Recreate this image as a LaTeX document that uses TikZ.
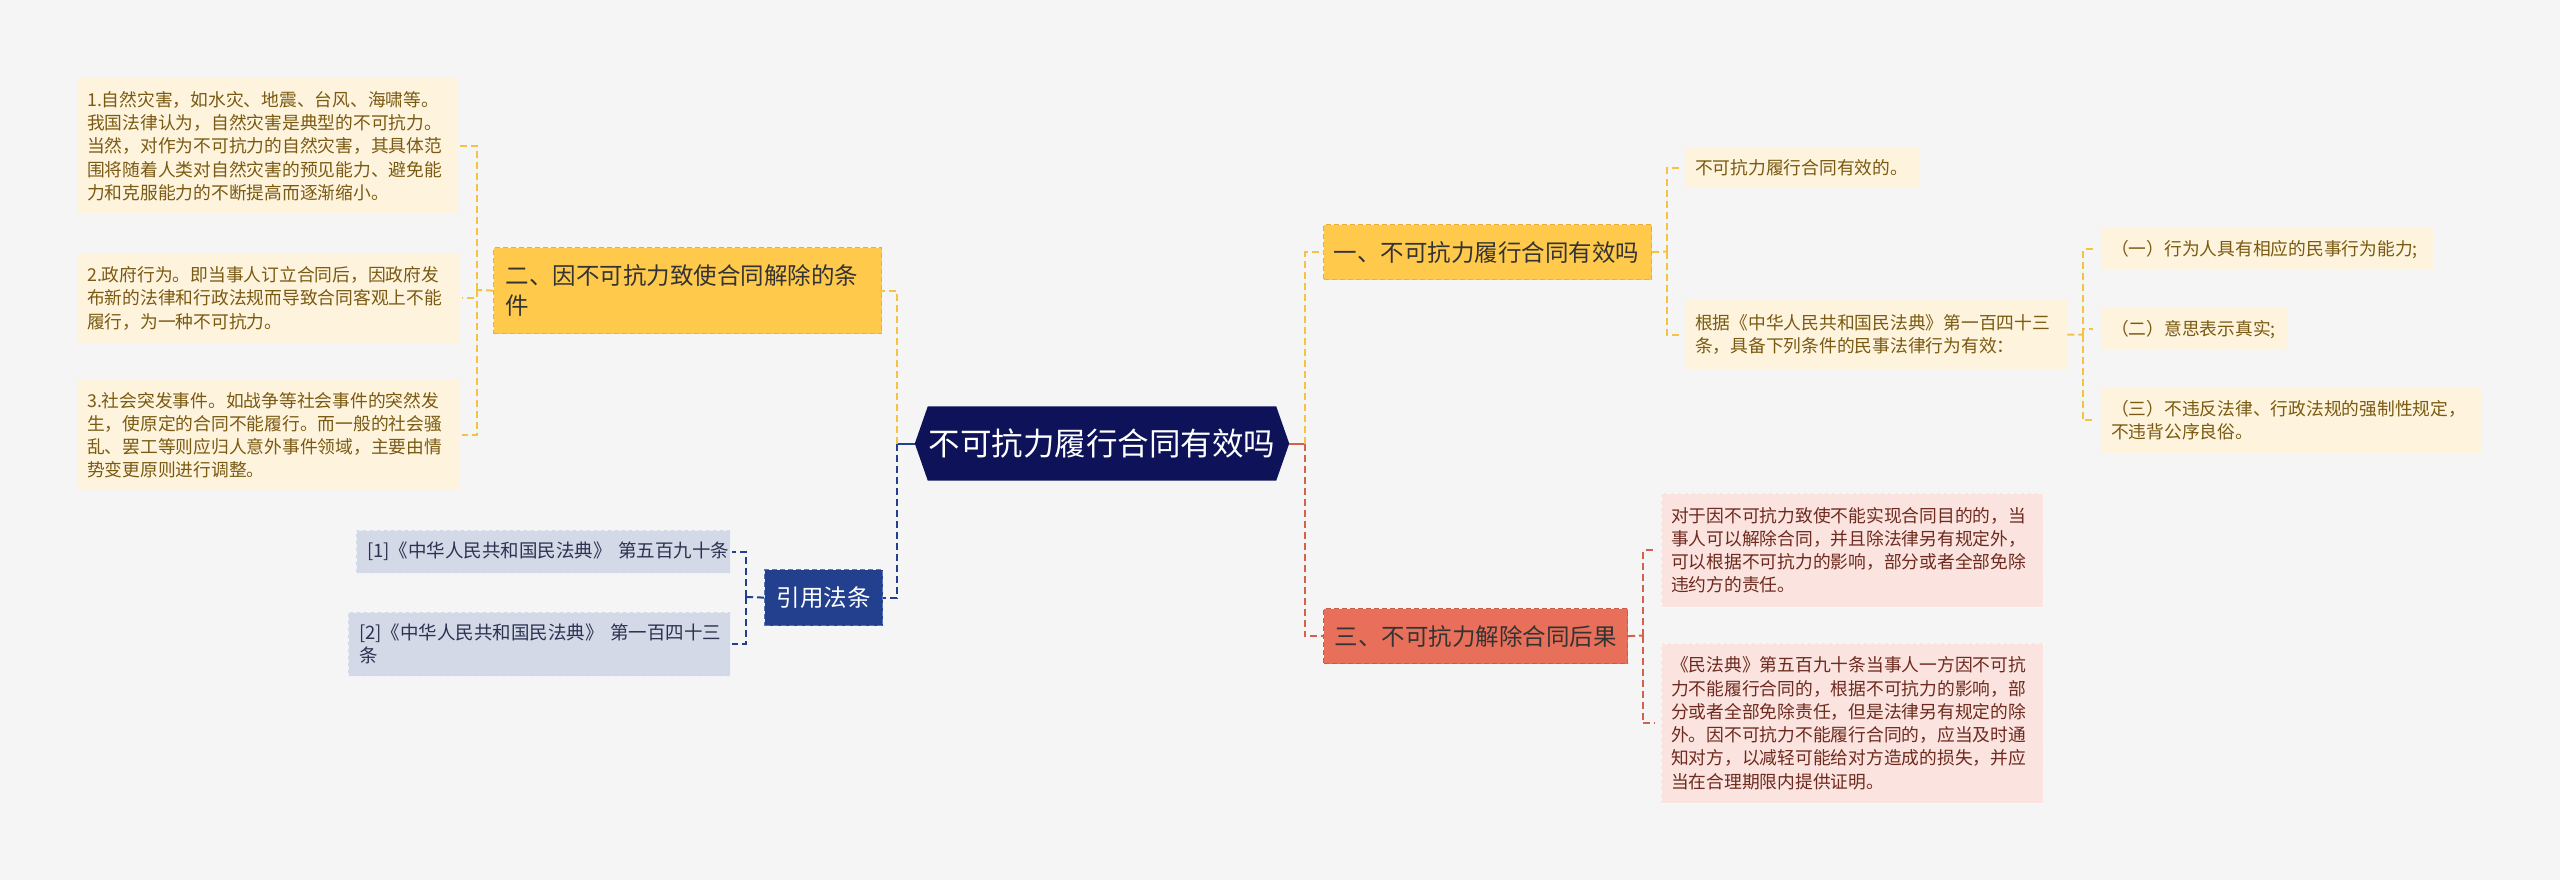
\documentclass[tikz,border=0pt]{standalone}
\usepackage{fontspec}
\setmainfont{Noto Sans CJK SC}
\usepackage{tikz}
\usetikzlibrary{backgrounds}
\definecolor{bggray}{HTML}{F5F5F5}
\definecolor{navy}{HTML}{0E1258}
\definecolor{gold}{HTML}{FFC94C}
\definecolor{golddark}{HTML}{EFAE2E}
\definecolor{goldline}{HTML}{F5C242}
\definecolor{cream}{HTML}{FEF3DC}
\definecolor{creamtext}{HTML}{7A5A12}
\definecolor{royal}{HTML}{22408E}
\definecolor{royallight}{HTML}{5A76B8}
\definecolor{lav}{HTML}{D3D9E7}
\definecolor{lavtext}{HTML}{2C3350}
\definecolor{salmon}{HTML}{E8705B}
\definecolor{salmondark}{HTML}{D05A46}
\definecolor{pinkleaf}{HTML}{FBE3DF}
\definecolor{redtext}{HTML}{6E2A1E}
\definecolor{redline}{HTML}{D5604C}

\begin{document}
\begin{tikzpicture}[x=1pt, y=-1pt,
	rootbox/.style={text=white, minimum width=374pt, minimum height=74pt, inner sep=0pt, font=\fontsize{31.5}{38}\selectfont},
	topic/.style={anchor=north west, draw, dash pattern=on 5pt off 3pt, line width=1.2pt, inner xsep=12pt, inner ysep=0pt, align=left, font=\fontsize{23.5}{30}\selectfont},
	goldtopic/.style={topic, fill=gold, draw=golddark, text=black!80},
	redtopic/.style={topic, fill=salmon, draw=salmondark, text=black!80},
	lawtopic/.style={topic, fill=royal, draw=royallight, text=white},
	leaf/.style={anchor=north west, inner xsep=10pt, inner ysep=0pt, align=left, font=\fontsize{17.75}{23.3}\selectfont},
	yleaf/.style={leaf, fill=cream, text=creamtext},
	rleaf/.style={leaf, fill=pinkleaf, text=redtext, draw=white!70!pinkleaf, dash pattern=on 4pt off 3pt},
	refleaf/.style={leaf, fill=lav, text=lavtext, draw=white!60!lav, dash pattern=on 4pt off 3pt, inner xsep=11pt, font=\fontsize{18.5}{23.3}\selectfont},
	link/.style={line width=2pt, dash pattern=on 7pt off 4pt},
	yline/.style={link, draw=goldline},
	bline/.style={link, draw=royal},
	rline/.style={link, draw=redline},
]

\useasboundingbox (0,0) rectangle (2560,880);

% center
\node[rootbox] (root) at (1102,443.5) {不可抗力履行合同有效吗};
\begin{scope}[on background layer]
	\fill[bggray] (0,0) rectangle (2560,880); % background
	\fill[navy] (root.west) -- ([xshift=13pt]root.north west) -- ([xshift=-13pt]root.north east) -- (root.east)
		-- ([xshift=-13pt]root.south east) -- ([xshift=13pt]root.south west) -- cycle; % hexagon
\end{scope}

% left side
\node[goldtopic, text width=364pt, minimum width=388pt, minimum height=86pt] (cond) at (493,247) {二、因不可抗力致使合同解除的条\\件};
\node[yleaf, text width=361pt, minimum width=381pt, minimum height=136pt] (nat) at (77,78) {1.自然灾害，如水灾、地震、台风、海啸等。\\我国法律认为，自然灾害是典型的不可抗力。\\当然，对作为不可抗力的自然灾害，其具体范\\围将随着人类对自然灾害的预见能力、避免能\\力和克服能力的不断提高而逐渐缩小。};
\node[yleaf, text width=363pt, minimum width=383pt, minimum height=90pt] (gov) at (77,253) {2.政府行为。即当事人订立合同后，因政府发\\布新的法律和行政法规而导致合同客观上不能\\履行，为一种不可抗力。};
\node[yleaf, text width=363pt, minimum width=383pt, minimum height=110pt] (soc) at (77,380) {3.社会突发事件。如战争等社会事件的突然发\\生，使原定的合同不能履行。而一般的社会骚\\乱、罢工等则应归人意外事件领域，主要由情\\势变更原则进行调整。};

\node[lawtopic, text width=94pt, minimum width=118pt, minimum height=56pt] (law) at (764,569) {引用法条};
\node[refleaf, text width=352pt, minimum width=374pt, minimum height=43pt] (refa) at (356,530) {[1]《中华人民共和国民法典》~第五百九十条};
\node[refleaf, text width=360pt, minimum width=382pt, minimum height=64pt] (refb) at (348,612) {[2]《中华人民共和国民法典》~第一百四十三\\条};

% right side
\node[goldtopic, text width=308pt, minimum width=328pt, minimum height=55pt, inner xsep=10pt] (valid) at (1323,224) {一、不可抗力履行合同有效吗};
\node[yleaf, text width=215pt, minimum width=235pt, minimum height=40pt] (yes) at (1685,148) {不可抗力履行合同有效的。};
\node[yleaf, text width=362pt, minimum width=382pt, minimum height=69pt] (art) at (1685,300) {根据《中华人民共和国民法典》第一百四十三\\条，具备下列条件的民事法律行为有效：};
\node[yleaf, text width=312pt, minimum width=332pt, minimum height=42pt] (ca) at (2101,228) {（一）行为人具有相应的民事行为能力;};
\node[yleaf, text width=166pt, minimum width=186pt, minimum height=42pt] (cb) at (2101,308) {（二）意思表示真实;};
\node[yleaf, text width=361pt, minimum width=381pt, minimum height=66pt] (cc) at (2101,387) {（三）不违反法律、行政法规的强制性规定，\\不违背公序良俗。};

\node[redtopic, text width=282pt, minimum width=304pt, minimum height=55pt, inner xsep=11pt] (end) at (1323,608) {三、不可抗力解除合同后果};
\node[rleaf, text width=362pt, minimum width=382pt, minimum height=114pt] (ra) at (1661,493) {对于因不可抗力致使不能实现合同目的的，当\\事人可以解除合同，并且除法律另有规定外，\\可以根据不可抗力的影响，部分或者全部免除\\违约方的责任。};
\node[rleaf, text width=362pt, minimum width=382pt, minimum height=160pt] (rb) at (1661,643) {《民法典》第五百九十条当事人一方因不可抗\\力不能履行合同的，根据不可抗力的影响，部\\分或者全部免除责任，但是法律另有规定的除\\外。因不可抗力不能履行合同的，应当及时通\\知对方，以减轻可能给对方造成的损失，并应\\当在合理期限内提供证明。};

% junctions
\coordinate (jl) at (897,443.5);
\coordinate (jcond) at (477,290);
\coordinate (jlaw) at (746,597);
\coordinate (jr) at (1305,443.5);
\coordinate (jvalid) at (1667,251.5);
\coordinate (jart) at (2083,334.5);
\coordinate (jend) at (1643,635.5);

% connectors
\draw[line width=2pt, royal] (root.west) -- (jl);
\draw[yline] (jl) |- (cond.east);
\draw[bline] (jl) |- (law.east);
\draw[yline] (cond.west) -- (jcond);
\foreach \n in {nat, gov, soc}
	\draw[yline, shorten >=2pt] (jcond) |- (\n.east);
\draw[bline] (law.west) -- (jlaw);
\foreach \n in {refa, refb}
	\draw[bline, shorten >=2pt] (jlaw) |- (\n.east);

\draw[line width=2pt, redline] (root.east) -- (jr);
\draw[yline] (jr) |- (valid.west);
\draw[rline] (jr) |- (end.west);
\draw[yline] (valid.east) -- (jvalid);
\foreach \n in {yes, art}
	\draw[yline, shorten >=3pt] (jvalid) |- (\n.west);
\draw[yline] (art.east) -- (jart);
\foreach \n in {ca, cb, cc}
	\draw[yline, shorten >=8pt] (jart) |- (\n.west);
\draw[rline] (end.east) -- (jend);
\foreach \n in {ra, rb}
	\draw[rline, shorten >=6pt] (jend) |- (\n.west);

\end{tikzpicture}
\end{document}
